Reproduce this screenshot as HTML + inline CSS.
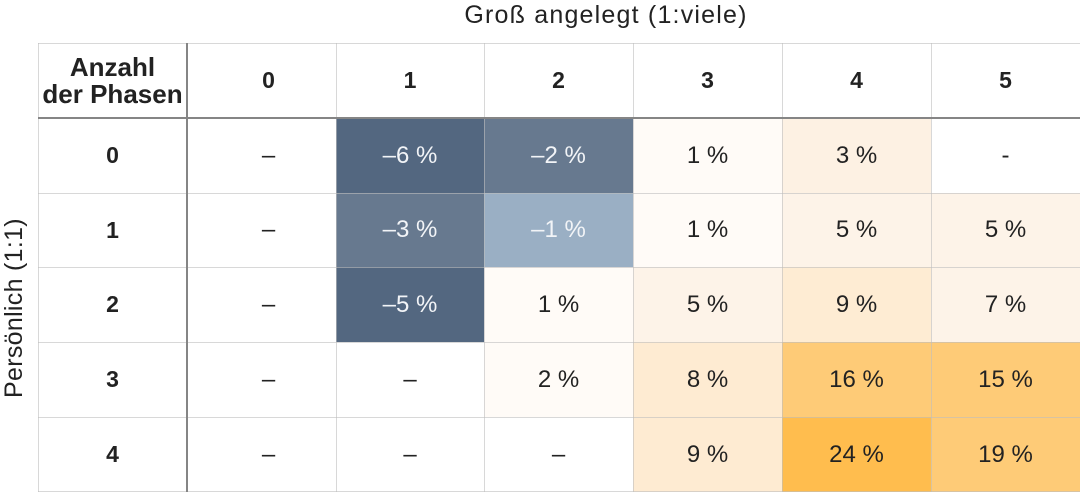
<!DOCTYPE html>
<html><head><meta charset="utf-8"><style>
html,body{margin:0;padding:0;background:#fff;}
body{width:1080px;height:493px;position:relative;overflow:hidden;font-family:"Liberation Sans",sans-serif;color:#222;}
.c{position:absolute;display:flex;align-items:center;justify-content:center;font-size:24px;}
.b{font-weight:bold;font-size:23px;}
.w{color:#f2f4f7;}
.l{position:absolute;background:rgba(190,190,190,0.6);}
.d{position:absolute;background:#858585;}
</style></head><body>
<div style="position:absolute;left:365px;top:0;width:482px;height:30px;line-height:30px;text-align:center;font-size:25px;letter-spacing:1.2px;color:#222;">Groß angelegt (1:viele)</div>
<div style="position:absolute;left:-86px;top:293px;width:200px;height:30px;line-height:30px;text-align:center;font-size:25px;letter-spacing:0.3px;transform:rotate(-90deg);color:#222;">Persönlich (1:1)</div>

<!-- header row -->
<div class="c b" style="left:38px;top:43px;width:149px;height:75px;font-size:26px;line-height:27px;text-align:center;">Anzahl<br>der Phasen</div>
<div class="c b" style="left:194px;top:43px;width:149px;height:75px;">0</div>
<div class="c b" style="left:336px;top:43px;width:148px;height:75px;">1</div>
<div class="c b" style="left:484px;top:43px;width:149px;height:75px;">2</div>
<div class="c b" style="left:633px;top:43px;width:149px;height:75px;">3</div>
<div class="c b" style="left:782px;top:43px;width:149px;height:75px;">4</div>
<div class="c b" style="left:931px;top:43px;width:149px;height:75px;">5</div>

<!-- row 0 -->
<div class="c b" style="left:38px;top:118px;width:149px;height:75px;">0</div>
<div class="c" style="left:194px;top:118px;width:149px;height:75px;">–</div>
<div class="c w" style="left:336px;top:118px;width:148px;height:75px;background:#536780;">–6 %</div>
<div class="c w" style="left:484px;top:118px;width:149px;height:75px;background:#67798f;">–2 %</div>
<div class="c" style="left:633px;top:118px;width:149px;height:75px;background:#fffbf7;">1 %</div>
<div class="c" style="left:782px;top:118px;width:149px;height:75px;background:#fdf1e3;">3 %</div>
<div class="c" style="left:931px;top:118px;width:149px;height:75px;">-</div>

<!-- row 1 -->
<div class="c b" style="left:38px;top:193px;width:149px;height:74px;">1</div>
<div class="c" style="left:194px;top:193px;width:149px;height:74px;">–</div>
<div class="c w" style="left:336px;top:193px;width:148px;height:74px;background:#67798f;">–3 %</div>
<div class="c w" style="left:484px;top:193px;width:149px;height:74px;background:#9aafc4;">–1 %</div>
<div class="c" style="left:633px;top:193px;width:149px;height:74px;background:#fffbf7;">1 %</div>
<div class="c" style="left:782px;top:193px;width:149px;height:74px;background:#fdf3e8;">5 %</div>
<div class="c" style="left:931px;top:193px;width:149px;height:74px;background:#fdf3e8;">5 %</div>

<!-- row 2 -->
<div class="c b" style="left:38px;top:267px;width:149px;height:75px;">2</div>
<div class="c" style="left:194px;top:267px;width:149px;height:75px;">–</div>
<div class="c w" style="left:336px;top:267px;width:148px;height:75px;background:#536780;">–5 %</div>
<div class="c" style="left:484px;top:267px;width:149px;height:75px;background:#fffbf7;">1 %</div>
<div class="c" style="left:633px;top:267px;width:149px;height:75px;background:#fdf3e8;">5 %</div>
<div class="c" style="left:782px;top:267px;width:149px;height:75px;background:#feecd3;">9 %</div>
<div class="c" style="left:931px;top:267px;width:149px;height:75px;background:#fdf3e8;">7 %</div>

<!-- row 3 -->
<div class="c b" style="left:38px;top:342px;width:149px;height:75px;">3</div>
<div class="c" style="left:194px;top:342px;width:149px;height:75px;">–</div>
<div class="c" style="left:336px;top:342px;width:148px;height:75px;">–</div>
<div class="c" style="left:484px;top:342px;width:149px;height:75px;background:#fffbf7;">2 %</div>
<div class="c" style="left:633px;top:342px;width:149px;height:75px;background:#feebd2;">8 %</div>
<div class="c" style="left:782px;top:342px;width:149px;height:75px;background:#fecb77;">16 %</div>
<div class="c" style="left:931px;top:342px;width:149px;height:75px;background:#fecb77;">15 %</div>

<!-- row 4 -->
<div class="c b" style="left:38px;top:417px;width:149px;height:75px;">4</div>
<div class="c" style="left:194px;top:417px;width:149px;height:75px;">–</div>
<div class="c" style="left:336px;top:417px;width:148px;height:75px;">–</div>
<div class="c" style="left:484px;top:417px;width:149px;height:75px;">–</div>
<div class="c" style="left:633px;top:417px;width:149px;height:75px;background:#feebd2;">9 %</div>
<div class="c" style="left:782px;top:417px;width:149px;height:75px;background:#ffbd4e;">24 %</div>
<div class="c" style="left:931px;top:417px;width:149px;height:75px;background:#fecb77;">19 %</div>

<!-- grid lines -->
<div class="l" style="left:38px;top:43px;width:1042px;height:1px;"></div>
<div class="l" style="left:38px;top:193px;width:1042px;height:1px;"></div>
<div class="l" style="left:38px;top:267px;width:1042px;height:1px;"></div>
<div class="l" style="left:38px;top:342px;width:1042px;height:1px;"></div>
<div class="l" style="left:38px;top:417px;width:1042px;height:1px;"></div>
<div class="l" style="left:38px;top:491px;width:1042px;height:1px;"></div>
<div class="l" style="left:38px;top:43px;width:1px;height:449px;"></div>
<div class="l" style="left:336px;top:43px;width:1px;height:449px;"></div>
<div class="l" style="left:484px;top:43px;width:1px;height:449px;"></div>
<div class="l" style="left:633px;top:43px;width:1px;height:449px;"></div>
<div class="l" style="left:782px;top:43px;width:1px;height:449px;"></div>
<div class="l" style="left:931px;top:43px;width:1px;height:449px;"></div>
<!-- header separators -->
<div class="d" style="left:38px;top:117px;width:1042px;height:2px;"></div>
<div class="d" style="left:186px;top:43px;width:2px;height:449px;"></div>
</body></html>
